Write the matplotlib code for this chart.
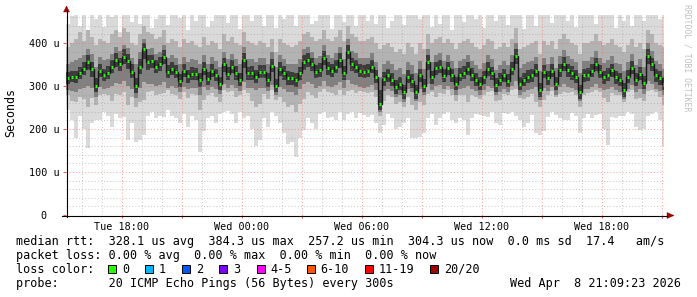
import numpy as np
import matplotlib
matplotlib.use('Agg')
import matplotlib.pyplot as plt
from matplotlib.lines import Line2D
from matplotlib.patches import Rectangle, Polygon

# ---------------- data (microseconds), one value per 12-minute slot ----------------
# slots start at Tue 15:12 (hours relative to Tue 18:00 = -2.8)
slot_start_hour = -2.8
slot_hours = 0.2

median_rtt = [
    318, 322, 320, 330, 340, 355, 340, 300, 335, 326,
    330, 345, 360, 350, 368, 358, 333, 300, 345, 385,
    355, 357, 345, 352, 368, 333, 340, 333, 312, 335,
    323, 329, 328, 314, 340, 317, 336, 326, 305, 350,
    329, 345, 330, 314, 360, 330, 330, 322, 333, 333,
    314, 347, 300, 340, 330, 318, 318, 315, 330, 355,
    360, 350, 333, 338, 365, 341, 335, 345, 360, 330,
    380, 350, 345, 335, 333, 335, 345, 322, 257, 316,
    325, 315, 298, 305, 285, 322, 312, 285, 325, 300,
    355, 320, 341, 345, 324, 341, 325, 305, 326, 331,
    340, 326, 314, 305, 320, 340, 330, 302, 314, 325,
    312, 340, 370, 305, 315, 322, 325, 335, 290, 333,
    318, 335, 305, 337, 352, 337, 330, 322, 285, 325,
    326, 335, 350, 333, 320, 326, 337, 320, 315, 290,
    322, 342, 314, 329, 308, 370, 350, 325, 318, 304,
]

# outermost smoke: fastest / slowest ping
smoke_min = [
    245, 222, 180, 230, 200, 156, 215, 220, 221, 240,
    230, 205, 235, 225, 228, 174, 215, 170, 175, 185,
    230, 240, 225, 230, 228, 245, 230, 225, 213, 235,
    205, 230, 220, 147, 195, 225, 230, 213, 235, 240,
    243, 235, 215, 240, 225, 230, 200, 160, 175, 225,
    205, 240, 230, 215, 190, 165, 170, 136, 180, 198,
    225, 215, 200, 235, 240, 225, 228, 222, 240, 220,
    235, 240, 225, 238, 232, 228, 232, 215, 190, 210,
    235, 225, 200, 205, 215, 225, 180, 178, 182, 190,
    225, 235, 210, 225, 235, 240, 220, 215, 225, 222,
    186, 225, 235, 232, 230, 228, 240, 215, 210, 238,
    235, 240, 230, 220, 205, 215, 232, 190, 186, 195,
    228, 240, 232, 225, 220, 222, 238, 230, 190, 225,
    235, 225, 232, 235, 200, 163, 228, 225, 230, 230,
    240, 235, 205, 198, 200, 230, 235, 240, 220, 160,
]
smoke_max = [
    445, 462, 470, 440, 470, 430, 470, 455, 470, 438,
    470, 460, 470, 425, 470, 470, 448, 470, 445, 470,
    470, 435, 455, 470, 470, 442, 470, 470, 458, 470,
    430, 470, 450, 470, 470, 438, 450, 470, 470, 470,
    446, 470, 470, 432, 470, 470, 452, 470, 470, 440,
    470, 470, 436, 470, 455, 470, 470, 440, 470, 470,
    470, 445, 450, 470, 470, 470, 432, 470, 470, 448,
    470, 470, 440, 470, 470, 452, 470, 445, 470, 470,
    435, 450, 470, 470, 442, 470, 470, 470, 455, 470,
    470, 438, 470, 445, 470, 470, 430, 470, 470, 448,
    470, 470, 455, 470, 436, 470, 470, 450, 470, 470,
    442, 470, 470, 470, 432, 470, 470, 440, 470, 470,
    470, 446, 470, 470, 470, 452, 470, 438, 470, 470,
    470, 470, 444, 470, 470, 470, 470, 436, 470, 450,
    470, 440, 470, 470, 452, 470, 470, 470, 455, 470,
]
# second smoke layer
smoke_lo1 = [
    280, 265, 262, 275, 270, 250, 272, 255, 280, 282,
    278, 265, 282, 280, 285, 255, 275, 250, 262, 268,
    285, 288, 280, 282, 284, 290, 282, 280, 270, 285,
    272, 282, 278, 245, 268, 280, 284, 275, 262, 290,
    285, 288, 275, 280, 290, 283, 265, 250, 258, 282,
    270, 290, 268, 275, 262, 250, 255, 240, 258, 270,
    285, 280, 272, 286, 292, 285, 284, 280, 290, 278,
    288, 290, 284, 288, 285, 284, 286, 275, 230, 265,
    280, 275, 258, 262, 250, 275, 255, 245, 262, 255,
    282, 285, 275, 284, 282, 290, 280, 265, 278, 280,
    262, 280, 275, 270, 278, 285, 288, 265, 268, 282,
    280, 290, 292, 272, 270, 275, 282, 262, 250, 268,
    280, 288, 275, 282, 285, 284, 286, 280, 250, 280,
    284, 286, 290, 285, 272, 262, 284, 280, 278, 262,
    285, 290, 270, 272, 265, 288, 290, 285, 275, 255,
]
smoke_hi1 = [
    390, 400, 410, 425, 405, 430, 415, 395, 410, 405,
    400, 420, 430, 415, 435, 425, 400, 395, 420, 440,
    425, 420, 410, 415, 430, 400, 410, 405, 390, 410,
    400, 405, 395, 390, 415, 395, 405, 400, 385, 420,
    405, 415, 400, 395, 425, 405, 400, 395, 405, 400,
    390, 410, 380, 410, 400, 395, 390, 395, 405, 420,
    425, 415, 405, 410, 430, 410, 405, 415, 430, 405,
    440, 420, 415, 405, 405, 410, 415, 400, 385, 395,
    400, 390, 380, 385, 375, 400, 390, 375, 400, 385,
    420, 400, 410, 415, 400, 410, 400, 385, 400, 405,
    410, 400, 390, 385, 395, 410, 405, 385, 390, 400,
    390, 410, 435, 385, 390, 395, 400, 405, 375, 405,
    395, 405, 385, 410, 420, 410, 400, 395, 375, 400,
    400, 405, 420, 405, 395, 400, 410, 395, 390, 380,
    395, 410, 390, 400, 385, 430, 420, 400, 395, 390,
]
# third smoke layer
smoke_lo2 = [
    290, 288, 285, 292, 295, 300, 296, 275, 298, 292,
    295, 300, 308, 305, 312, 300, 292, 272, 295, 310,
    305, 305, 300, 302, 310, 295, 300, 296, 285, 298,
    292, 296, 295, 280, 298, 290, 298, 293, 282, 305,
    296, 302, 295, 288, 310, 296, 295, 290, 296, 296,
    288, 302, 278, 298, 292, 285, 285, 280, 292, 305,
    310, 305, 296, 300, 312, 300, 298, 302, 310, 296,
    315, 305, 302, 298, 296, 298, 302, 290, 240, 288,
    292, 288, 275, 280, 262, 292, 285, 265, 292, 278,
    305, 290, 300, 302, 292, 300, 292, 280, 294, 296,
    300, 294, 288, 280, 290, 300, 296, 278, 286, 292,
    285, 300, 312, 280, 286, 290, 292, 298, 268, 296,
    288, 298, 280, 298, 305, 298, 295, 290, 265, 292,
    292, 298, 305, 296, 290, 292, 298, 290, 286, 270,
    292, 302, 285, 294, 282, 312, 305, 292, 288, 280,
]
smoke_hi2 = [
    350, 355, 360, 365, 372, 385, 375, 345, 368, 360,
    362, 375, 390, 382, 395, 388, 365, 350, 378, 410,
    385, 388, 375, 380, 395, 365, 372, 366, 350, 368,
    356, 362, 360, 350, 372, 352, 368, 358, 345, 380,
    362, 375, 362, 350, 390, 362, 362, 355, 365, 365,
    350, 378, 345, 372, 362, 352, 352, 350, 362, 385,
    390, 380, 365, 370, 395, 372, 366, 376, 390, 362,
    410, 382, 376, 366, 365, 366, 376, 356, 320, 350,
    358, 350, 338, 342, 328, 355, 348, 330, 358, 340,
    385, 355, 372, 376, 358, 372, 358, 342, 358, 362,
    372, 358, 348, 340, 354, 372, 362, 338, 348, 358,
    348, 372, 400, 342, 350, 356, 358, 368, 335, 366,
    352, 368, 342, 370, 384, 370, 362, 356, 330, 358,
    358, 368, 382, 366, 354, 360, 370, 354, 350, 335,
    356, 374, 348, 362, 345, 400, 382, 358, 352, 340,
]
# innermost (darkest) smoke layer
smoke_lo3 = [
    305, 310, 306, 316, 326, 338, 322, 286, 320, 312,
    316, 330, 344, 335, 352, 340, 318, 284, 328, 362,
    338, 342, 330, 336, 350, 318, 326, 318, 298, 320,
    308, 314, 314, 298, 325, 302, 320, 311, 290, 333,
    314, 330, 315, 299, 342, 315, 315, 306, 318, 318,
    298, 332, 285, 324, 314, 302, 303, 298, 315, 338,
    344, 334, 318, 322, 348, 326, 320, 330, 343, 314,
    362, 334, 330, 320, 318, 320, 330, 306, 245, 300,
    310, 300, 282, 290, 270, 306, 296, 270, 310, 285,
    338, 305, 326, 330, 309, 326, 310, 290, 311, 316,
    325, 311, 299, 290, 305, 324, 315, 287, 299, 310,
    297, 325, 352, 290, 300, 307, 310, 320, 275, 318,
    303, 320, 290, 322, 336, 322, 315, 307, 270, 310,
    311, 320, 334, 318, 305, 311, 322, 305, 300, 275,
    307, 327, 299, 314, 293, 352, 334, 310, 303, 290,
]
smoke_hi3 = [
    332, 336, 334, 345, 356, 372, 356, 318, 350, 340,
    346, 360, 376, 366, 385, 374, 350, 318, 362, 400,
    372, 372, 360, 368, 384, 348, 355, 348, 328, 350,
    338, 344, 342, 330, 356, 332, 350, 340, 320, 366,
    344, 360, 346, 330, 376, 345, 346, 338, 348, 348,
    330, 362, 316, 356, 346, 334, 332, 330, 345, 372,
    376, 366, 348, 354, 382, 356, 350, 360, 376, 346,
    396, 366, 360, 350, 348, 350, 360, 338, 290, 332,
    340, 330, 314, 320, 302, 338, 328, 302, 340, 316,
    372, 336, 356, 360, 340, 356, 340, 320, 342, 346,
    355, 342, 330, 320, 336, 356, 345, 318, 330, 340,
    328, 356, 386, 320, 330, 338, 340, 350, 306, 348,
    334, 350, 320, 352, 368, 352, 346, 338, 302, 340,
    342, 350, 366, 348, 336, 342, 352, 336, 330, 306,
    338, 358, 330, 344, 324, 386, 366, 340, 334, 320,
]

y_ticks = [0, 100, 200, 300, 400]
y_tick_labels = ['0  ', '100 u', '200 u', '300 u', '400 u']
x_tick_hours = [0, 6, 12, 18, 24]
x_tick_labels = ['Tue 18:00', 'Wed 00:00', 'Wed 06:00', 'Wed 12:00', 'Wed 18:00']

legend_lines = [
    'median rtt:  328.1 us avg  384.3 us max  257.2 us min  304.3 us now  0.0 ms sd  17.4   am/s',
    'packet loss: 0.00 % avg  0.00 % max  0.00 % min  0.00 % now',
    'loss color:',
    'probe:       20 ICMP Echo Pings (56 Bytes) every 300s',
]
loss_labels = ['0', '1', '2', '3', '4-5', '6-10', '11-19', '20/20']
loss_colors = ['#26ff00', '#00b8ff', '#0059ff', '#7e00ff', '#ff00ff', '#ff5500', '#ff0000', '#a00000']
timestamp = 'Wed Apr  8 21:09:23 2026'

# ---------------- drawing ----------------
W, H, DPI = 697, 297, 100
MONO = 'DejaVu Sans Mono'
plt.rcParams['font.family'] = [MONO, 'DejaVu Sans']


def fx(px):
    return px / W


def fy(py):
    return 1 - py / H


fig = plt.figure(figsize=(W / DPI, H / DPI), dpi=DPI, facecolor='white')
ax = fig.add_axes([fx(66), fy(215), 598 / W, 200 / H])
ax.set_facecolor('white')

n = len(median_rtt)
edges = slot_start_hour + slot_hours * np.arange(n + 1)
centers = 0.5 * (edges[:-1] + edges[1:])

layers = [
    (smoke_min, smoke_max, '#dadada'),
    (smoke_lo1, smoke_hi1, '#b3b3b3'),
    (smoke_lo2, smoke_hi2, '#808080'),
    (smoke_lo3, smoke_hi3, '#3c3c3c'),
]
for lo, hi, col in layers:
    ax.stairs(np.asarray(hi, float), edges, baseline=np.asarray(lo, float), fill=True,
              color=col, linewidth=0, zorder=1)

ax.stairs(np.asarray(median_rtt, float), edges, baseline=None, color='#151515', linewidth=1.0, zorder=3)
ax.hlines(median_rtt, centers - 0.065, centers + 0.065, colors='#26ff00', linewidth=2.2, zorder=4)

ax.set_xlim(-2.8, 27.1)
ax.set_ylim(0, 465.1)

for s in ax.spines.values():
    s.set_visible(False)

major_x = np.arange(0, 28, 3)
ax.set_xticks(major_x)
ax.set_xticklabels([x_tick_labels[x_tick_hours.index(h)] if h in x_tick_hours else '' for h in major_x])
ax.set_xticks([h for h in range(-2, 28) if h % 3 != 0], minor=True)
ax.set_yticks(y_ticks)
ax.set_yticklabels(y_tick_labels)
ax.set_yticks([v for v in range(20, 465, 20) if v % 100 != 0], minor=True)

ax.tick_params(which='major', length=2.2, width=0.8, color='#e06060', direction='out',
               labelsize=7.3, labelcolor='black', pad=2.5)
ax.tick_params(which='minor', length=0)
ax.set_axisbelow(False)
ax.grid(which='major', color='#ff6060', alpha=0.55, linestyle=(0, (1, 2)), linewidth=0.75)
ax.grid(which='minor', color='#909090', alpha=0.45, linestyle=(0, (1, 2)), linewidth=0.75)

# axis lines with arrow heads
fig.add_artist(Line2D([fx(66.5), fx(66.5)], [fy(217), fy(10)], color='black', linewidth=0.8,
                      transform=fig.transFigure))
fig.add_artist(Line2D([fx(62), fx(667)], [fy(215.5), fy(215.5)], color='black', linewidth=0.8,
                      transform=fig.transFigure))
fig.add_artist(Polygon([[fx(63.5), fy(12)], [fx(69.5), fy(12)], [fx(66.5), fy(6)]], closed=True,
                       facecolor='#a00000', edgecolor='#a00000', linewidth=0.3, transform=fig.transFigure))
fig.add_artist(Polygon([[fx(667), fy(212.5)], [fx(667), fy(218.5)], [fx(674), fy(215.5)]], closed=True,
                       facecolor='#a00000', edgecolor='#a00000', linewidth=0.3, transform=fig.transFigure))

# y label
fig.text(fx(11), fy(113), 'Seconds', rotation=90, ha='center', va='center', fontsize=8.4, family=MONO)

# watermark
fig.text(fx(687), fy(4), 'RRDTOOL / TOBI OETIKER', rotation=270, ha='center', va='top',
         fontsize=5.9, color='#c0c0c0', family=MONO)

# legend text
baselines = [245, 259, 273, 287]
for line, b in zip(legend_lines, baselines):
    fig.text(fx(16), fy(b), line, ha='left', va='baseline', fontsize=8.5, family=MONO)
fig.text(fx(680.5), fy(287), timestamp, ha='right', va='baseline', fontsize=8.5, family=MONO)

box_x = [108, 145, 182, 219, 256.5, 306.5, 365, 430]
for bx, lab, col in zip(box_x, loss_labels, loss_colors):
    fig.add_artist(Rectangle((fx(bx), fy(272.5)), 8 / W, 8 / H, facecolor=col, edgecolor='black',
                             linewidth=0.7, transform=fig.transFigure))
    fig.text(fx(bx + 14), fy(273), lab, ha='left', va='baseline', fontsize=8.5, family=MONO)

fig.savefig('out.png', dpi=DPI, facecolor='white')
